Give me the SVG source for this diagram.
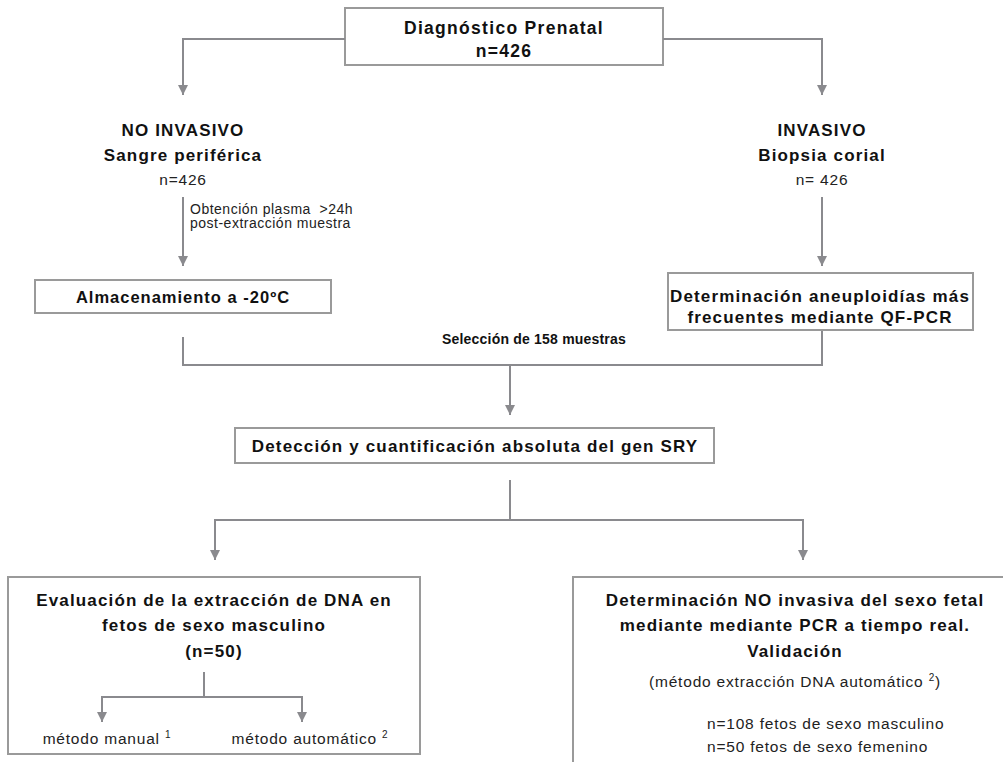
<svg xmlns="http://www.w3.org/2000/svg" width="1003" height="762" viewBox="0 0 1003 762">
<defs>
<marker id="arr" viewBox="0 0 10 10" refX="10" refY="5" markerWidth="10" markerHeight="10" markerUnits="userSpaceOnUse" orient="auto">
<path d="M0,0 L10,5 L0,10 z" fill="#8a8a8e"/>
</marker>
<style>
.box{fill:#fff;stroke:#9a9a9a;stroke-width:2}
.ln{fill:none;stroke:#8a8a8e;stroke-width:2}
.ar{marker-end:url(#arr)}
.b{font-family:"Liberation Sans",Arial,sans-serif;font-weight:bold;font-size:17px;letter-spacing:1.15px;fill:#111;text-anchor:middle}
.r{font-family:"Liberation Sans",Arial,sans-serif;font-size:15.5px;letter-spacing:0.8px;fill:#222;text-anchor:middle}
.s{font-family:"Liberation Sans",Arial,sans-serif;font-size:14px;letter-spacing:0.5px;fill:#222}
.sup{font-size:10px}
</style>
</defs>
<rect width="1003" height="762" fill="#fff"/>
<g id="n-prenatal">
<rect class="box" x="345" y="8" width="318" height="57"/>
<text class="b" x="504" y="34" style="font-size:17.5px;letter-spacing:1.3px">Diagnóstico Prenatal</text>
<text class="b" x="504" y="57" style="font-size:17.5px;letter-spacing:1.3px">n=426</text>
</g>
<g id="n-noinvasivo">
<text class="b" x="183" y="136">NO INVASIVO</text>
<text class="b" x="183" y="161">Sangre periférica</text>
<text class="r" x="183" y="185">n=426</text>
</g>
<g id="n-invasivo">
<text class="b" x="822" y="136">INVASIVO</text>
<text class="b" x="822" y="161">Biopsia corial</text>
<text class="r" x="822" y="185">n= 426</text>
</g>
<g id="l-obtencion">
<text class="s" x="190" y="214" xml:space="preserve">Obtención plasma  &gt;24h</text>
<text class="s" x="190" y="228">post-extracción muestra</text>
</g>
<g id="n-almacenamiento">
<rect class="box" x="35" y="280" width="296" height="33"/>
<text class="b" x="183" y="303" style="font-size:16.5px;letter-spacing:1px">Almacenamiento a -20ºC</text>
</g>
<g id="n-qfpcr">
<rect class="box" x="668" y="273" width="305" height="57"/>
<text class="b" x="820" y="302">Determinación aneuploidías más</text>
<text class="b" x="820" y="323">frecuentes mediante QF-PCR</text>
</g>
<g id="l-seleccion">
<text class="b" x="534" y="344" style="font-size:14px;letter-spacing:0.2px">Selección de 158 muestras</text>
</g>
<g id="n-sry">
<rect class="box" x="235" y="428" width="479" height="35"/>
<text class="b" x="475" y="452">Detección y cuantificación absoluta del gen SRY</text>
</g>
<g id="n-evaluacion">
<rect class="box" x="8" y="577" width="412" height="177"/>
<text class="b" x="214" y="606">Evaluación de la extracción de DNA en</text>
<text class="b" x="214" y="631">fetos de sexo masculino</text>
<text class="b" x="214" y="657">(n=50)</text>
</g>
<g id="n-manual">
<text class="r" x="107" y="744">método manual <tspan class="sup" dy="-6">1</tspan></text>
</g>
<g id="n-automatico">
<text class="r" x="310" y="744">método automático <tspan class="sup" dy="-6">2</tspan></text>
</g>
<g id="n-determinacion">
<rect class="box" x="573" y="577" width="440" height="200"/>
<text class="b" x="795" y="606">Determinación NO invasiva del sexo fetal</text>
<text class="b" x="795" y="631">mediante mediante PCR a tiempo real.</text>
<text class="b" x="795" y="657">Validación</text>
<text class="r" x="795" y="687">(método extracción DNA automático <tspan class="sup" dy="-6">2</tspan><tspan dy="6">)</tspan></text>
<text class="r" x="707" y="729" style="text-anchor:start">n=108 fetos de sexo masculino</text>
<text class="r" x="707" y="752" style="text-anchor:start">n=50 fetos de sexo femenino</text>
</g>
<g id="connectors">
<path class="ln ar" d="M345,39 H183 V95"/>
<path class="ln ar" d="M663,39 H822 V95"/>
<path class="ln ar" d="M183,197 V266"/>
<path class="ln ar" d="M822,197 V266"/>
<path class="ln" d="M183,337 V365 H822 V331"/>
<path class="ln ar" d="M510,365 V415"/>
<path class="ln" d="M510,480 V520"/>
<path class="ln ar" d="M510,520 H215 V560"/>
<path class="ln ar" d="M510,520 H803 V560"/>
<path class="ln" d="M204,672 V697"/>
<path class="ln ar" d="M204,697 H102 V722"/>
<path class="ln ar" d="M204,697 H302 V722"/>
</g>
</svg>
